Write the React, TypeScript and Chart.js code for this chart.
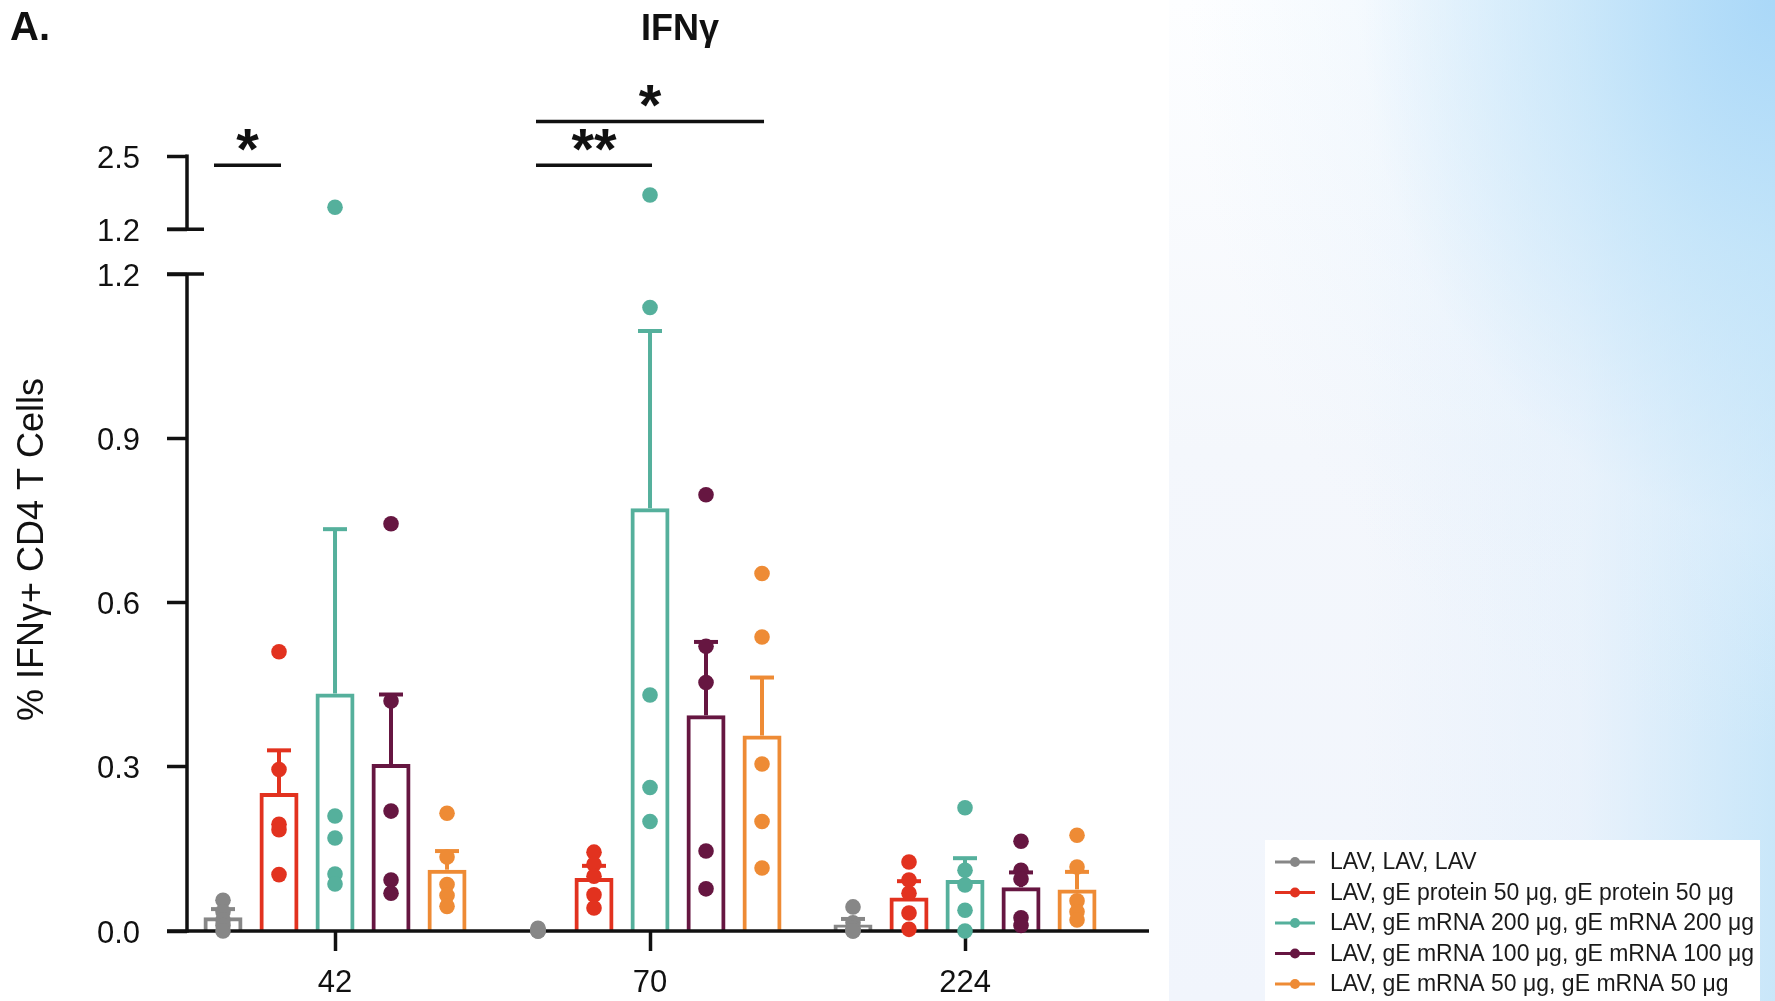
import React, { useEffect, useRef } from 'react';
import { Chart, registerables, LinearScale } from 'chart.js';

// ---- data -------------------------------------------------------------
const DAYS = ['42', '70', '224'];

const GROUP_LABELS = [
  'LAV, LAV, LAV',
  'LAV, gE protein 50 μg, gE protein 50 μg',
  'LAV, gE mRNA 200 μg, gE mRNA 200 μg',
  'LAV, gE mRNA 100 μg, gE mRNA 100 μg',
  'LAV, gE mRNA 50 μg, gE mRNA 50 μg',
];
const GROUP_COLORS = ['#878787', '#e2321f', '#55b09c', '#661641', '#ee8b35'];

// Group means (% IFNγ+ of CD4 T cells) on days 42, 70, 224
const MEAN_LAV = [0.025, 0.002, 0.012];
const MEAN_PROTEIN_50 = [0.252, 0.097, 0.061];
const MEAN_MRNA_200 = [0.434, 0.772, 0.093];
const MEAN_MRNA_100 = [0.305, 0.394, 0.08];
const MEAN_MRNA_50 = [0.112, 0.357, 0.076];

// Upper error bars (SEM)
const SEM_LAV = [0.015, 0, 0.01];
const SEM_PROTEIN_50 = [0.078, 0.022, 0.03];
const SEM_MRNA_200 = [0.3, 0.324, 0.04];
const SEM_MRNA_100 = [0.127, 0.134, 0.027];
const SEM_MRNA_50 = [0.034, 0.106, 0.032];

// Individual animals, per day
const PTS_LAV = [
  [0.056, 0.035, 0.02, 0.01, 0.0],
  [0.0, 0.0, 0.0, 0.003, 0.005],
  [0.044, 0.015, 0.005, 0.0, 0.0],
];
const PTS_PROTEIN_50 = [
  [0.51, 0.295, 0.195, 0.185, 0.103],
  [0.144, 0.122, 0.1, 0.066, 0.042],
  [0.126, 0.093, 0.069, 0.033, 0.003],
];
const PTS_MRNA_200 = [
  [1.59, 0.21, 0.17, 0.104, 0.086],
  [1.81, 1.139, 0.431, 0.262, 0.2],
  [0.225, 0.111, 0.084, 0.038, 0.0],
];
const PTS_MRNA_100 = [
  [0.744, 0.42, 0.219, 0.093, 0.069],
  [0.797, 0.52, 0.454, 0.146, 0.077],
  [0.164, 0.111, 0.095, 0.024, 0.01],
];
const PTS_MRNA_50 = [
  [0.215, 0.135, 0.085, 0.065, 0.045],
  [0.653, 0.537, 0.305, 0.2, 0.115],
  [0.175, 0.117, 0.055, 0.035, 0.02],
];

const MEANS = [MEAN_LAV, MEAN_PROTEIN_50, MEAN_MRNA_200, MEAN_MRNA_100, MEAN_MRNA_50];
const SEMS = [SEM_LAV, SEM_PROTEIN_50, SEM_MRNA_200, SEM_MRNA_100, SEM_MRNA_50];
const POINTS = [PTS_LAV, PTS_PROTEIN_50, PTS_MRNA_200, PTS_MRNA_100, PTS_MRNA_50];

// y-axis ticks: lower segment and upper (broken) segment
const Y_TICKS_LOWER = [0, 0.3, 0.6, 0.9, 1.2];
const Y_TICKS_UPPER = [1.2, 2.5];

// significance brackets: day index, from group, to group, height, label
const SIG_DAY = [0, 1, 1];
const SIG_FROM = [0, 0, 0];
const SIG_TO = [1, 2, 4];
const SIG_LEVEL = [2.34, 2.34, 3.12];
const SIG_TEXT = ['*', '**', '*'];

// ---- broken y scale -----------------------------------------------------
const BREAK_AT = 1.2;
const BREAK_GAP = 0.082;
const UPPER_RATIO = 0.1025;
const AXIS_MAX = 1.591;

function toAxis(v: number, upper: boolean = v > BREAK_AT) {
  return upper ? BREAK_AT + BREAK_GAP + (v - BREAK_AT) * UPPER_RATIO : v;
}
function fromAxis(a: number) {
  return a <= BREAK_AT ? a : BREAK_AT + (a - BREAK_AT - BREAK_GAP) / UPPER_RATIO;
}

class BrokenLinearScale extends LinearScale {
  static id = 'brokenLinear';
  static defaults = LinearScale.defaults;

  buildTicks() {
    return [
      ...Y_TICKS_LOWER.map((v) => ({ value: v, axisValue: toAxis(v, false) })),
      ...Y_TICKS_UPPER.map((v) => ({ value: v, axisValue: toAxis(v, true) })),
    ];
  }
  getPixelForAxis(a: number) {
    return super.getPixelForValue(a);
  }
  getPixelForValue(v: number) {
    return super.getPixelForValue(toAxis(v));
  }
  getValueForPixel(p: number) {
    return fromAxis(super.getValueForPixel(p));
  }
  getPixelForTick(i: number) {
    const t: any = (this as any).ticks[i];
    return t ? super.getPixelForValue(t.axisValue) : null;
  }
}

Chart.register(...registerables, BrokenLinearScale);

// ---- styling --------------------------------------------------------------
const FONT = '"Liberation Sans", Arial, Helvetica, sans-serif';
const INK = '#111111';
const AXIS_W = 3.5;
const TICK_LEN = 20;

const decor = {
  id: 'decor',
  afterDraw(chart: any) {
    const { ctx, chartArea: area, scales } = chart;
    const ys = scales.y;
    ctx.save();

    const seg = (x1: number, y1: number, x2: number, y2: number, w = AXIS_W, c = INK) => {
      ctx.beginPath();
      ctx.strokeStyle = c;
      ctx.lineWidth = w;
      ctx.moveTo(x1, y1);
      ctx.lineTo(x2, y2);
      ctx.stroke();
    };

    // axes
    const y0 = ys.getPixelForValue(0);
    const yLowTop = ys.getPixelForAxis(toAxis(BREAK_AT, false));
    const yUpBottom = ys.getPixelForAxis(toAxis(BREAK_AT, true));
    const yUpTop = ys.getPixelForAxis(toAxis(Y_TICKS_UPPER[Y_TICKS_UPPER.length - 1], true));
    seg(area.left - TICK_LEN, y0, area.right, y0);
    seg(area.left, y0 + AXIS_W / 2, area.left, yLowTop);
    seg(area.left, yUpBottom, area.left, yUpTop - AXIS_W / 2);
    seg(area.left - TICK_LEN, yLowTop, area.left + 17, yLowTop);
    seg(area.left - TICK_LEN, yUpBottom, area.left + 17, yUpBottom);

    // error bars
    MEANS.forEach((mean, k) => {
      const meta = chart.getDatasetMeta(k);
      meta.data.forEach((bar: any, j: number) => {
        if (!SEMS[k][j]) return;
        const top = ys.getPixelForValue(mean[j] + SEMS[k][j]);
        seg(bar.x, bar.y, bar.x, top, 4, GROUP_COLORS[k]);
        seg(bar.x - 12, top, bar.x + 12, top, 4, GROUP_COLORS[k]);
      });
    });

    // individual points
    POINTS.forEach((days, k) => {
      const meta = chart.getDatasetMeta(k);
      days.forEach((vals, j) => {
        const bx = meta.data[j].x;
        ctx.fillStyle = GROUP_COLORS[k];
        vals.forEach((v) => {
          ctx.beginPath();
          ctx.arc(bx, ys.getPixelForValue(v), 7.8, 0, Math.PI * 2);
          ctx.fill();
        });
      });
    });

    // significance brackets
    SIG_TEXT.forEach((txt, i) => {
      const d = SIG_DAY[i];
      const x1 = chart.getDatasetMeta(SIG_FROM[i]).data[d].x - (d === 0 ? 9 : 2);
      const x2 = chart.getDatasetMeta(SIG_TO[i]).data[d].x + 2;
      const ly = ys.getPixelForValue(SIG_LEVEL[i]);
      seg(x1, ly, x2, ly);
      ctx.fillStyle = INK;
      ctx.font = `bold 58px ${FONT}`;
      ctx.textAlign = 'center';
      ctx.textBaseline = 'alphabetic';
      ctx.fillText(txt, (x1 + x2) / 2, ly + 4);
    });

    // titles
    ctx.fillStyle = INK;
    ctx.textBaseline = 'alphabetic';
    ctx.font = `bold 40px ${FONT}`;
    ctx.textAlign = 'left';
    ctx.fillText('A.', 10, 40);
    ctx.font = `bold 36px ${FONT}`;
    ctx.textAlign = 'center';
    ctx.fillText('IFNγ', 680, 40);

    ctx.save();
    ctx.translate(43, 549.5);
    ctx.rotate(-Math.PI / 2);
    ctx.font = `36px ${FONT}`;
    ctx.textAlign = 'center';
    ctx.fillText('% IFNγ+ CD4 T Cells', 0, 0);
    ctx.restore();

    // legend
    ctx.fillStyle = '#ffffff';
    ctx.fillRect(1265, 840, 495, 170);
    GROUP_LABELS.forEach((label, k) => {
      const ry = 862 + k * 30.5;
      seg(1275, ry, 1315, ry, 3, GROUP_COLORS[k]);
      ctx.fillStyle = GROUP_COLORS[k];
      ctx.beginPath();
      ctx.arc(1295, ry, 5, 0, Math.PI * 2);
      ctx.fill();
      ctx.fillStyle = '#1a1a1a';
      ctx.font = `23px ${FONT}`;
      ctx.textAlign = 'left';
      ctx.textBaseline = 'middle';
      ctx.fillText(label, 1330, ry + 1);
    });

    ctx.restore();
  },
};

export default function App() {
  const canvasRef = useRef<HTMLCanvasElement | null>(null);

  useEffect(() => {
    const canvas = canvasRef.current;
    if (!canvas) return;
    const chart = new Chart(canvas, {
      type: 'bar',
      data: {
        datasets: GROUP_LABELS.map((label, k) => ({
          label,
          data: DAYS.map((_, i) => ({ x: i, y: MEANS[k][i] })),
          backgroundColor: 'rgba(255,255,255,0)',
          borderColor: GROUP_COLORS[k],
          borderWidth: 4,
          categoryPercentage: 0.889,
          barPercentage: 0.696,
        })),
      },
      options: {
        responsive: false,
        animation: false,
        events: [],
        devicePixelRatio: 1,
        layout: { padding: { left: 0, right: 626, top: 60, bottom: 0 } },
        plugins: { legend: { display: false }, tooltip: { enabled: false }, title: { display: false } },
        scales: {
          x: {
            type: 'linear',
            min: -0.4699,
            max: 2.5841,
            offset: false,
            afterBuildTicks: (scale: any) => {
              scale.ticks = DAYS.map((_, i) => ({ value: i }));
            },
            afterFit: (scale: any) => {
              scale.height = 70;
            },
            border: { display: false },
            grid: {
              offset: false,
              drawOnChartArea: false,
              drawTicks: true,
              tickLength: TICK_LEN,
              tickWidth: AXIS_W,
              tickColor: INK,
              color: INK,
            },
            ticks: {
              autoSkip: false,
              maxRotation: 0,
              padding: 14,
              color: INK,
              font: { family: FONT, size: 31 },
              callback: (v: any) => DAYS[Math.round(Number(v))],
            },
          },
          y: {
            type: 'brokenLinear' as any,
            min: 0,
            max: AXIS_MAX,
            bounds: 'data',
            afterFit: (scale: any) => {
              scale.width = 187;
            },
            border: { display: false },
            grid: {
              drawOnChartArea: false,
              drawTicks: true,
              tickLength: TICK_LEN,
              tickWidth: AXIS_W,
              tickColor: INK,
              color: INK,
            },
            ticks: {
              autoSkip: false,
              padding: 27,
              labelOffset: 3,
              color: INK,
              font: { family: FONT, size: 31 },
              callback: (v: any) => Number(v).toFixed(1),
            },
          } as any,
        },
      },
      plugins: [decor],
    });
    return () => chart.destroy();
  }, []);

  return (
    <div
      style={{
        position: 'fixed',
        left: 0,
        top: 0,
        width: 1775,
        height: 1001,
        background: '#ffffff',
        overflow: 'hidden',
      }}
    >
      <div
        style={{
          position: 'absolute',
          left: 1169,
          top: 0,
          right: 0,
          bottom: 0,
          background:
            'radial-gradient(110% 85% at 100% 0%, rgba(168,215,248,0.95) 0%, rgba(192,227,249,0.75) 30%, rgba(228,241,252,0.35) 62%, rgba(255,255,255,0) 88%),' +
            'linear-gradient(to left, rgba(194,228,249,0.85) 0%, rgba(222,237,251,0.45) 32%, rgba(240,245,252,0) 68%),' +
            'linear-gradient(to bottom, #fdfeff 0%, #f4f7fc 45%, #f1f5fc 100%)',
        }}
      />
      <canvas
        ref={canvasRef}
        width={1775}
        height={1001}
        style={{ position: 'absolute', left: 0, top: 0, width: 1775, height: 1001 }}
      />
    </div>
  );
}
